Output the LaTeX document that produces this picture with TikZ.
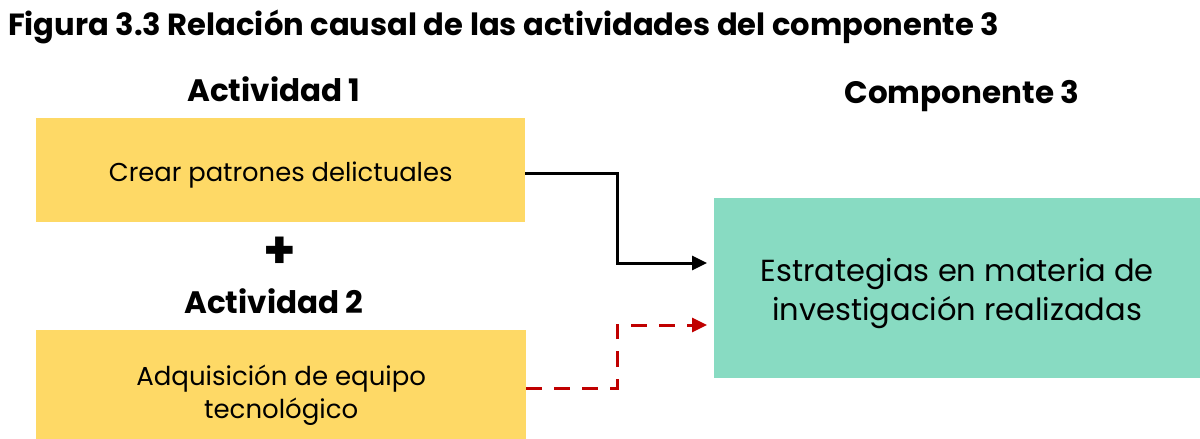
\documentclass[tikz,border=0pt]{standalone}
\usepackage{fontspec}
\setmainfont{Poppins}
\usetikzlibrary{arrows.meta}
\definecolor{boxyellow}{HTML}{FED966}
\definecolor{boxgreen}{HTML}{88DBC2}
\definecolor{darkred}{HTML}{C00000}
\tikzset{
  actbox/.style={fill=boxyellow, draw=none, anchor=north west, inner sep=0pt},
  compbox/.style={fill=boxgreen, draw=none, anchor=north west, inner sep=0pt},
  boxtext/.style={inner sep=0pt, align=center, text=black},
  heading/.style={font=\bfseries\fontsize{31}{34}\selectfont, inner sep=0pt},
  causal/.style={line width=3pt, -{Triangle[length=15pt,width=14pt]}},
  weakcausal/.style={line width=3pt, darkred, dash pattern=on 16pt off 12pt, -{Triangle[length=15pt,width=14pt]}}
}
\begin{document}
\begin{tikzpicture}[x=1pt,y=-1pt]
\useasboundingbox (0,0) rectangle (1200,439);
\node[heading, anchor=west, font=\bfseries\fontsize{30.6}{34}\selectfont] (title) at (8,27) {Figura 3.3 Relación causal de las actividades del componente 3};
\node[heading] (h1) at (274,89) {Actividad 1};
\node[heading] (h2) at (274,301) {Actividad 2};
\node[heading] (h3) at (962,96) {Componente 3};
\node[actbox, minimum width=489pt, minimum height=104pt] (a1) at (36,118) {};
\node[actbox, minimum width=490pt, minimum height=109pt] (a2) at (36,330) {};
\node[compbox, minimum width=486pt, minimum height=180pt] (c3) at (714,198) {};
\node[boxtext, font=\fontsize{25.8}{34}\selectfont] (a1t) at ([yshift=-5pt]a1.center) {Crear patrones delictuales};
\node[boxtext, font=\fontsize{26}{33}\selectfont] (a2t) at ([yshift=-11pt]a2.center) {Adquisición de equipo\\tecnológico};
\node[boxtext, font=\fontsize{30.5}{39}\selectfont] (c3t) at ([yshift=-5pt]c3.center) {Estrategias en materia de\\investigación realizadas};
\node[font=\bfseries\fontsize{52}{52}\selectfont, inner sep=0pt] (plus) at (280,253) {+};
\coordinate (t1) at (707,263);
\coordinate (t2) at (707,325);
\coordinate (s1) at (525,173);
\coordinate (s2) at (526,388);
\draw[causal] (s1) -- (617,173) |- (t1);
\draw[weakcausal] (s2) -- (617,388) |- (t2);
\end{tikzpicture}
\end{document}
